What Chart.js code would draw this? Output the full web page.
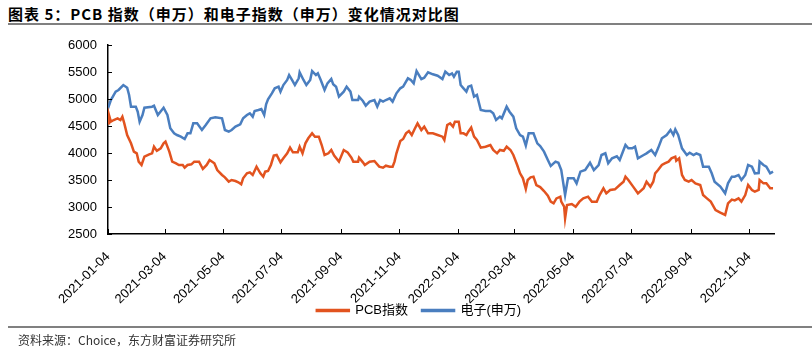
<!DOCTYPE html>
<html>
<head>
<meta charset="utf-8">
<script src="https://cdn.jsdelivr.net/npm/chart.js@4.4.1/dist/chart.umd.min.js"></script>
<style>
  html, body { margin: 0; padding: 0; background: #fff; }
  #wrap { position: relative; width: 812px; height: 352px; overflow: hidden; }
  #title { position: absolute; left: 8px; top: 3px; font: bold 15px "Noto Sans CJK SC", sans-serif; color: #000; white-space: nowrap; letter-spacing: 1px; }
  #topLine { position: absolute; left: 8px; right: 0; top: 23px; height: 2px; background: #808080; }
  #bottomLine { position: absolute; left: 8px; right: 0; top: 326px; height: 1.5px; background: #808080; }
  #source { position: absolute; left: 18px; top: 331px; font: 12px "Noto Sans CJK SC", sans-serif; color: #333; white-space: nowrap; }
  canvas { position: absolute; left: 0; top: 0; }
</style>
</head>
<body>
<div id="wrap">
  <div id="title">图表 5：PCB 指数（申万）和电子指数（申万）变化情况对比图</div>
  <div id="topLine"></div>
  <canvas id="chart" width="812" height="352"></canvas>
  <div id="bottomLine"></div>
  <div id="source">资料来源：Choice，东方财富证券研究所</div>
</div>
<script>
// x values are calendar days since 2021-01-04
const startDate = '2021-01-04';
const tickDates = ['2021-01-04', '2021-03-04', '2021-05-04', '2021-07-04', '2021-09-04', '2021-11-04',
                   '2022-01-04', '2022-03-04', '2022-05-04', '2022-07-04', '2022-09-04', '2022-11-04'];
const lastDay = 695; // 2022-11-30

const yTicks = [2500, 3000, 3500, 4000, 4500, 5000, 5500, 6000];

// 电子(申万)
const elecDays = [0,3,8,11,16,20,22,24,29,31,33,36,38,46,48,52,58,62,65,69,
  72,76,80,83,86,89,93,98,102,107,112,119,122,126,129,133,138,141,145,148,
  151,153,157,160,163,165,167,171,174,178,180,183,187,189,192,195,199,200,204,207,
  211,213,217,219,222,226,229,233,235,238,241,246,249,253,255,261,262,266,269,273,
  278,281,284,287,290,294,297,301,305,308,313,316,319,322,327,330,334,339,344,349,
  352,356,359,361,364,366,368,371,374,376,379,382,385,389,394,399,402,405,409,411,
  416,419,423,426,430,433,436,439,444,448,451,455,459,462,467,470,473,477,480,486,
  489,493,498,503,507,512,515,519,522,526,531,534,540,543,547,550,553,559,562,567,
  571,574,578,583,587,590,592,595,599,604,607,611,614,618,621,627,630,633,639,644,
  647,651,654,658,661,665,668,672,675,679,680,684,687,691,694];
const elecValues = [4828,4981,5135,5167,5259,5210,5074,4858,4858,4765,4580,4704,4839,4858,4876,4704,4839,4704,4457,4364,
  4333,4302,4259,4364,4364,4549,4549,4426,4519,4642,4660,4642,4426,4395,4426,4488,4531,4642,4704,4735,
  4673,4778,4796,4815,4704,4901,4994,5105,5198,5228,5136,5259,5352,5444,5352,5259,5383,5494,5352,5259,
  5352,5518,5444,5475,5352,5167,5290,5370,5272,5228,5043,5136,5228,5136,4981,4981,5043,4963,4877,4951,
  4981,4858,4981,4951,4981,5012,4951,5105,5198,5228,5383,5352,5290,5518,5370,5395,5494,5457,5432,5370,
  5506,5444,5475,5414,5506,5506,5259,5198,5136,5228,5247,5043,5074,4796,4778,4778,4735,4611,4673,4642,
  4858,4765,4673,4457,4333,4302,4136,4364,4364,4179,4130,4025,3870,3760,3840,3820,3685,3222,3531,3531,
  3438,3654,3685,3820,3685,3778,3963,3994,3809,3901,3938,3870,4148,4086,4086,4117,3901,3963,3994,4056,
  3963,4086,4272,4333,4426,4333,4438,4333,4086,3963,4006,3963,3994,3963,3747,3747,3624,3469,3377,3253,
  3438,3562,3562,3593,3500,3593,3778,3747,3624,3630,3840,3778,3747,3624,3654];

// PCB指数
const pcbDays = [0,1,3,6,10,13,15,17,20,24,27,30,32,35,38,43,46,48,51,55,
  58,60,64,67,71,74,78,80,83,87,90,95,99,103,106,111,114,119,122,126,
  129,133,136,139,141,145,148,151,155,159,162,164,167,170,173,176,180,183,187,190,
  193,198,200,203,206,209,213,216,220,223,226,230,233,236,241,246,250,254,256,261,
  262,266,268,273,278,283,287,290,294,297,299,301,305,308,311,314,317,320,323,327,
  330,334,339,344,349,351,354,357,360,362,366,368,371,374,376,379,382,385,389,394,
  399,402,406,409,413,416,420,423,427,430,433,436,438,441,444,447,451,455,459,462,
  465,468,472,473,476,477,479,484,488,492,496,501,505,510,513,517,520,524,529,534,
  538,540,543,548,553,559,562,566,569,571,574,578,581,585,588,592,593,596,599,602,
  606,609,613,618,621,625,629,634,639,644,647,651,654,658,661,665,668,672,675,679,
  680,684,687,691,694];
const pcbValues = [4549,4704,4580,4611,4642,4611,4673,4549,4333,4179,4025,3994,3840,3778,3932,3975,3994,4117,4040,4086,
  4179,4210,4025,3840,3809,3778,3778,3728,3778,3790,3840,3840,3704,3778,3870,3809,3685,3593,3549,3469,
  3500,3481,3457,3420,3531,3624,3642,3593,3747,3624,3562,3654,3667,3778,3951,3963,3827,3901,3994,4099,
  4012,4012,4117,3994,4179,4272,4364,4302,4302,4148,3963,3994,4056,3951,3840,4056,4012,3914,3840,3840,
  3914,3827,3778,3840,3852,3747,3728,3765,3747,3747,3840,3994,4222,4259,4364,4407,4333,4444,4549,4426,
  4488,4364,4364,4333,4302,4241,4519,4549,4488,4580,4580,4364,4364,4333,4395,4470,4302,4241,4099,4117,
  4148,4056,3994,4056,4040,4117,4056,3963,3778,3624,3531,3333,3500,3549,3562,3407,3370,3296,3210,3099,
  3068,3160,3191,3099,3006,2790,3037,3055,3006,3099,3160,3191,3099,3099,3222,3346,3253,3315,3327,3407,
  3469,3562,3500,3377,3253,3346,3469,3377,3469,3624,3685,3778,3809,3840,3901,3932,3858,3901,3593,3500,
  3469,3500,3438,3407,3222,3160,3099,2944,2895,2852,3068,3136,3123,3160,3099,3222,3407,3315,3284,3315,
  3500,3438,3438,3346,3346];

const PCB_COLOR = '#e2531f';
const ELEC_COLOR = '#4a7ebf';
const FONT = '"Liberation Sans", "Noto Sans CJK SC", sans-serif';

const dayOf = s => Math.round((Date.parse(s) - Date.parse(startDate)) / 86400000);
const tickDays = tickDates.map(dayOf);
const labelByDay = {};
tickDates.forEach((s, i) => { labelByDay[tickDays[i]] = s; });

const toPoints = (days, vals) => days.map((d, i) => ({ x: d, y: vals[i] }));

// short tick marks drawn inside the plot area, like the original
const innerTicks = {
    id: 'innerTicks',
    afterLayout(chart) {
        // pull the legend up a bit so it sits just under the rotated dates
        if (chart.legend) {
            chart.legend.top -= 14;
            chart.legend.bottom -= 14;
        }
    },
    afterDraw(chart) {
        const { ctx, chartArea } = chart;
        const xs = chart.scales.x, ys = chart.scales.y;
        ctx.save();
        ctx.strokeStyle = '#000';
        ctx.lineWidth = 1;
        xs.ticks.forEach(t => {
            const px = Math.round(xs.getPixelForValue(t.value)) + 0.5;
            ctx.beginPath();
            ctx.moveTo(px, chartArea.bottom);
            ctx.lineTo(px, chartArea.bottom - 5);
            ctx.stroke();
        });
        ys.ticks.forEach(t => {
            const py = Math.round(ys.getPixelForValue(t.value)) + 0.5;
            ctx.beginPath();
            ctx.moveTo(chartArea.left, py);
            ctx.lineTo(chartArea.left + 4, py);
            ctx.stroke();
        });
        ctx.restore();
    }
};

new Chart(document.getElementById('chart'), {
    type: 'line',
    data: {
        datasets: [
            {
                label: 'PCB指数',
                data: toPoints(pcbDays, pcbValues),
                borderColor: PCB_COLOR,
                backgroundColor: PCB_COLOR,
                borderWidth: 2.5,
                pointRadius: 0,
                tension: 0
            },
            {
                label: '电子(申万)',
                data: toPoints(elecDays, elecValues),
                borderColor: ELEC_COLOR,
                backgroundColor: ELEC_COLOR,
                borderWidth: 2.5,
                pointRadius: 0,
                tension: 0
            }
        ]
    },
    options: {
        responsive: false,
        animation: false,
        devicePixelRatio: 1,
        layout: { padding: { left: 64, right: 38, top: 45, bottom: 11 } },
        plugins: {
            tooltip: { enabled: false },
            legend: {
                position: 'bottom',
                labels: {
                    boxWidth: 32,
                    boxHeight: 1,
                    padding: 14,
                    color: '#000',
                    font: { family: FONT, size: 13 }
                }
            }
        },
        scales: {
            x: {
                type: 'linear',
                min: 0,
                max: lastDay,
                grid: { display: false },
                border: { display: true, color: '#000', width: 1.5 },
                afterBuildTicks: scale => { scale.ticks = tickDays.map(v => ({ value: v })); },
                afterFit: scale => { scale.height = 70; },
                ticks: {
                    autoSkip: false,
                    maxRotation: 45,
                    minRotation: 45,
                    padding: 7,
                    color: '#000',
                    font: { family: FONT, size: 13 },
                    callback: v => labelByDay[v] || ''
                }
            },
            y: {
                min: 2500,
                max: 6000,
                grid: { display: false, drawTicks: false },
                border: { display: true, color: '#000', width: 1.5 },
                afterBuildTicks: scale => { scale.ticks = yTicks.map(v => ({ value: v })); },
                afterFit: scale => { scale.width = 44; },
                ticks: {
                    padding: 11,
                    color: '#000',
                    font: { family: FONT, size: 13 },
                    callback: v => String(v)
                }
            }
        }
    },
    plugins: [innerTicks]
});
</script>
</body>
</html>
